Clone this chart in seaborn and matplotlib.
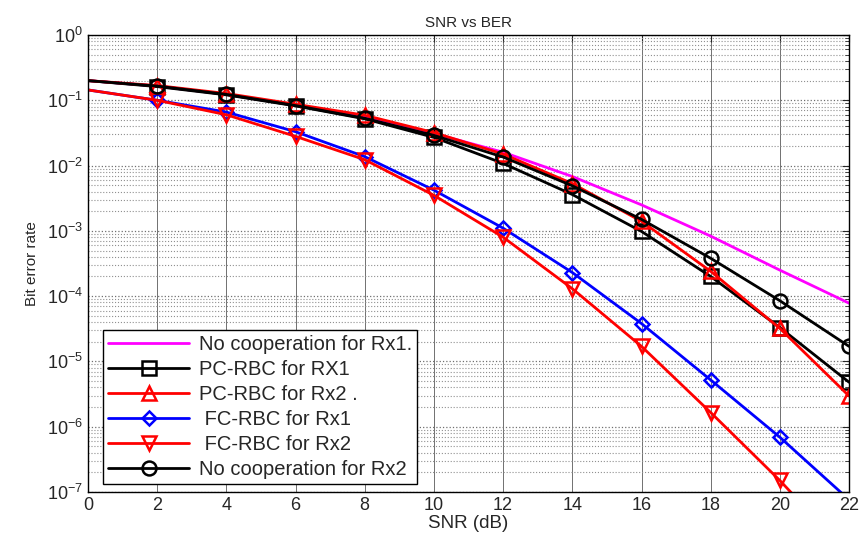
"""
SNR vs BER for cooperative relaying schemes (PC-RBC / FC-RBC) on a log scale.
Values read off the reference figure.
"""

import matplotlib
matplotlib.use("Agg")
import matplotlib.pyplot as plt
import matplotlib.ticker as mticker
import seaborn as sns

# ------------------------------------------------------------------------------
# Data
# ------------------------------------------------------------------------------
snr_db = [0, 2, 4, 6, 8, 10, 12, 14, 16, 18, 20, 22]

no_coop_rx1 = [0.2, 0.165, 0.123, 0.084, 0.055, 0.031, 0.016, 6.8e-3, 2.5e-3, 8.3e-4, 2.5e-4, 7.8e-5]
pc_rbc_rx1 = [0.2, 0.162, 0.121, 0.082, 0.052, 0.027, 0.0108, 3.6e-3, 9.8e-4, 2.0e-4, 3.3e-5, 4.8e-6]
pc_rbc_rx2 = [0.2, 0.168, 0.127, 0.087, 0.059, 0.032, 0.015, 5.3e-3, 1.4e-3, 2.4e-4, 3.2e-5, 2.95e-6]
fc_rbc_rx1 = [0.144, 0.1, 0.066, 0.033, 0.0137, 4.2e-3, 1.1e-3, 2.3e-4, 3.8e-5, 5.2e-6, 6.9e-7, 7.6e-8]
fc_rbc_rx2 = [0.144, 0.1, 0.06, 0.028, 0.0123, 3.5e-3, 8.0e-4, 1.3e-4, 1.7e-5, 1.65e-6, 1.5e-7, 1.1e-8]
no_coop_rx2 = [0.2, 0.165, 0.123, 0.083, 0.053, 0.029, 0.0135, 4.9e-3, 1.5e-3, 3.8e-4, 8.5e-5, 1.7e-5]

labels = [
    "No cooperation for Rx1.",
    "PC-RBC for RX1",
    "PC-RBC for Rx2 .",
    " FC-RBC for Rx1",
    " FC-RBC for Rx2",
    "No cooperation for Rx2",
]

y_decades = [1e-7, 1e-6, 1e-5, 1e-4, 1e-3, 1e-2, 1e-1, 1e0]

# ------------------------------------------------------------------------------
# Styling
# ------------------------------------------------------------------------------
sns.set_style("white")
plt.rcParams["font.family"] = ["Liberation Sans", "DejaVu Sans"]
plt.rcParams["mathtext.fontset"] = "custom"
plt.rcParams["mathtext.rm"] = "Liberation Sans"
plt.rcParams["mathtext.it"] = "Liberation Sans"

fig = plt.figure(figsize=(8.6, 5.4), dpi=100)
ax = fig.add_axes([0.1023, 0.0889, 0.885, 0.8463])

series = [
    (no_coop_rx1, "#ff00ff", None),
    (pc_rbc_rx1, "black", "s"),
    (pc_rbc_rx2, "red", "^"),
    (fc_rbc_rx1, "blue", "D"),
    (fc_rbc_rx2, "red", "v"),
    (no_coop_rx2, "black", "o"),
]

for (vals, color, marker), label in zip(series, labels):
    kws = dict(color=color, linewidth=2.0, label=label)
    if marker is not None:
        # markers only from 2 dB on, like the original
        kws.update(marker=marker, markersize=10 if marker != "D" else 7.5,
                   markerfacecolor="none", markeredgecolor=color,
                   markeredgewidth=1.8, markevery=list(range(1, len(snr_db))))
    sns.lineplot(x=snr_db, y=vals, ax=ax, **kws)

ax.set_yscale("log")
ax.set_xlim(0, 22)
ax.set_ylim(1e-7, 1)
ax.set_xticks(range(0, 23, 2))
ax.yaxis.set_major_locator(mticker.FixedLocator(y_decades))
ax.yaxis.set_major_formatter(mticker.LogFormatterSciNotation())
ax.yaxis.set_minor_locator(mticker.LogLocator(base=10, subs=range(2, 10), numticks=20))
ax.yaxis.set_minor_formatter(mticker.NullFormatter())

# MATLAB-style grid
ax.grid(True, which="major", axis="x", color="#707070", linestyle="-", linewidth=0.7)
ax.grid(True, which="major", axis="y", color="#707070", linestyle=":", linewidth=0.9)
ax.grid(True, which="minor", axis="y", color="#909090", linestyle=":", linewidth=0.8)
ax.set_axisbelow(True)

ax.tick_params(which="both", direction="in", top=True, right=True, labelsize=13)
ax.tick_params(which="major", length=5)
ax.tick_params(which="minor", length=3)
for spine in ax.spines.values():
    spine.set_color("black")
    spine.set_linewidth(1.0)

ax.set_title("SNR vs BER", fontsize=11, pad=6)
ax.set_xlabel("SNR (dB)", fontsize=13.5, labelpad=1)
ax.set_ylabel("Bit error rate", fontsize=11, labelpad=6)

leg = ax.legend(loc="lower left", bbox_to_anchor=(0.02, 0.017), fontsize=14.5,
                frameon=True, fancybox=False, edgecolor="black", framealpha=1,
                borderpad=0.25, labelspacing=0.3, handlelength=4.0,
                handletextpad=0.5, borderaxespad=0)
leg.get_frame().set_linewidth(1.0)

fig.savefig("out.png", dpi=100)
